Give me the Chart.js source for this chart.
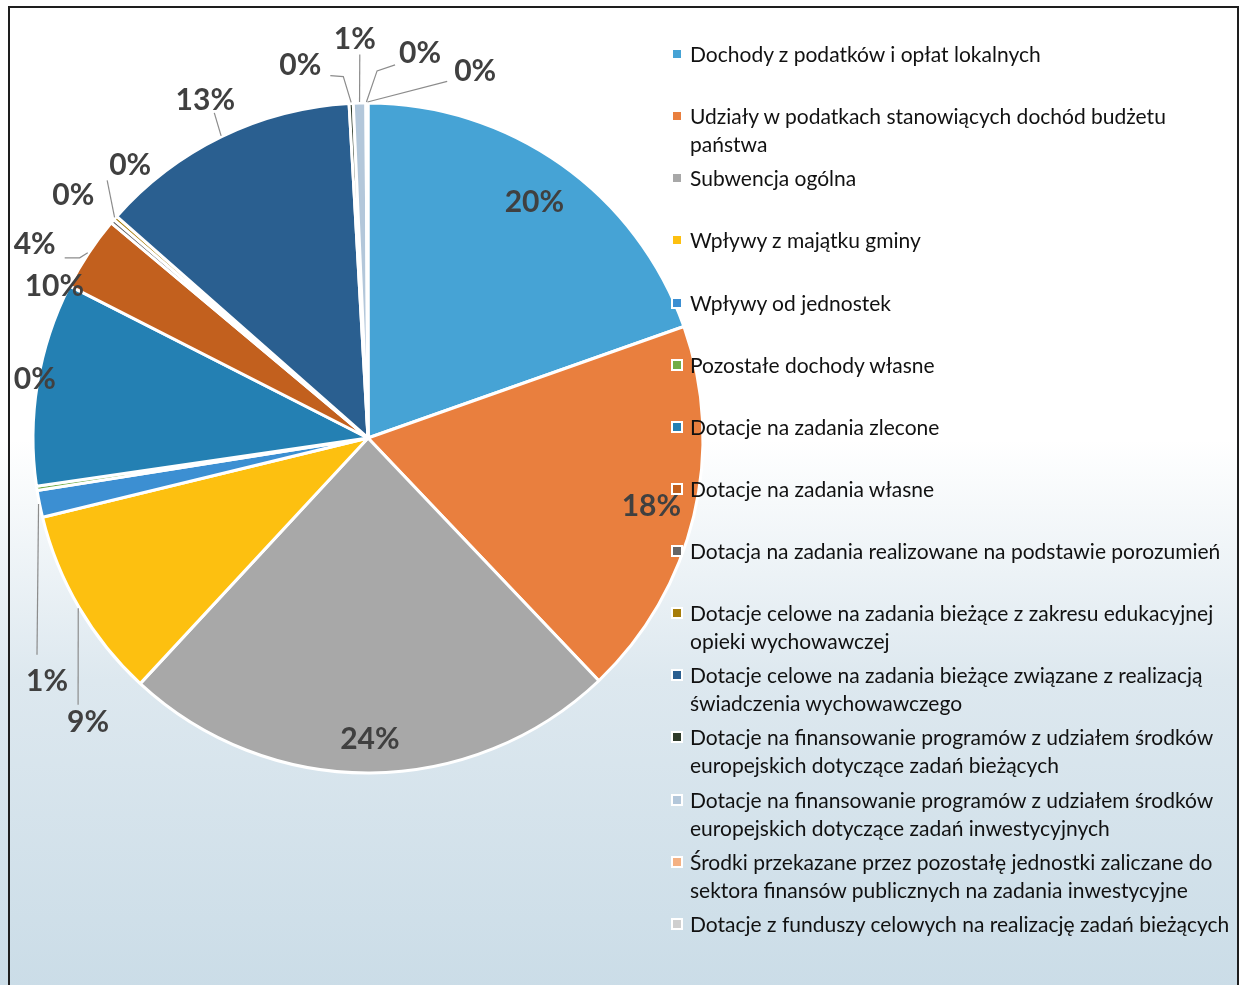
<!DOCTYPE html>
<html>
<head>
<meta charset="utf-8">
<script src="https://cdn.jsdelivr.net/npm/chart.js@4.4.0/dist/chart.umd.min.js"></script>
<style>
  html, body { margin: 0; padding: 0; background: #fff; }
  body { width: 1241px; height: 985px; overflow: hidden; position: relative; font-family: Lato, sans-serif; }
  .frame {
    position: absolute; left: 0; top: 0; width: 1237px; height: 1000px;
    background: linear-gradient(to bottom, #fff 0%, #fff 44%, #dde8ef 68%, #cadce7 100%);
  }
  .border { position: absolute; left: 8px; top: 6px; width: 1227px; height: 1000px; border: 2px solid #1e1e1e; }
  .chart-box { position: absolute; left: 0; top: 0; width: 736px; height: 876px; }
  #legend { position: absolute; left: 672px; top: 40px; }
  .item { height: 62.14px; position: relative; padding-left: 18px; font-size: 21px; line-height: 28px; color: #111; white-space: pre; }
  .item i { position: absolute; left: 1px; top: 10px; width: 8px; height: 8px; outline: 2px solid #fff; }
</style>
</head>
<body>
<div class="frame"></div>
<div class="border"></div>
<div class="chart-box"><canvas id="pie"></canvas></div>
<div id="legend"></div>
<script>
const categories = [
  'Dochody z podatków i opłat lokalnych',
  'Udziały w podatkach stanowiących dochód budżetu\npaństwa',
  'Subwencja ogólna',
  'Wpływy z majątku gminy',
  'Wpływy od jednostek',
  'Pozostałe dochody własne',
  'Dotacje na zadania zlecone',
  'Dotacje na zadania własne',
  'Dotacja na zadania realizowane na podstawie porozumień',
  'Dotacje celowe na zadania bieżące z zakresu edukacyjnej\nopieki wychowawczej',
  'Dotacje celowe na zadania bieżące związane z realizacją\nświadczenia wychowawczego',
  'Dotacje na finansowanie programów z udziałem środków\neuropejskich dotyczące zadań bieżących',
  'Dotacje na finansowanie programów z udziałem środków\neuropejskich dotyczące zadań inwestycyjnych',
  'Środki przekazane przez pozostałę jednostki zaliczane do\nsektora finansów publicznych na zadania inwestycyjne',
  'Dotacje z funduszy celowych na realizację zadań bieżących'
];
// share of total income, %
const shares = [19.6, 18.3, 24.0, 9.3, 1.3, 0.2, 9.8, 3.6, 0.2, 0.2, 12.6, 0.2, 0.6, 0.05, 0.05];

const colors = ['#46a3d5', '#e97f3e', '#a8a8a8', '#fdc010', '#3c8fd2', '#72ad47', '#2480b3', '#c2601e',
  '#666666', '#a67d0a', '#2a5f90', '#2e3b2a', '#b3c7da', '#f4b183', '#cfcfcf'];

// where each % label sits: angle from top (null = middle of slice), distance in radii, leader line points relative to label
const labelPlace = [
  [null, 0.86], [null, 0.87], [null, 0.90],
  [224.6, 1.19, [[-10, -17]]],
  [232.8, 1.203, [[-10, -27]]],
  [280, 1.01], [295.8, 1.04],
  [300.1, 1.15, [[45, 13], [30, 13]]],
  [309.5, 1.14],
  [318.9, 1.08, [[-23, 15]]],
  [334.3, 1.12, [[9, 13]]],
  [349.7, 1.13, [[43, 11], [30, 10]]],
  [358.1, 1.19, [[5, 15]]],
  [7.7, 1.16, [[-43, 18], [-25, 12]]],
  [16.3, 1.14, [[-28, 10]]]
];

const total = shares.reduce((a, b) => a + b, 0);

const pctLabels = {
  id: 'pctLabels',
  afterDatasetsDraw(chart) {
    const ctx = chart.ctx;
    const arcs = chart.getDatasetMeta(0).data;
    ctx.save();
    arcs.forEach((arc, i) => {
      const { x, y, startAngle, endAngle, outerRadius } = arc.getProps(['x', 'y', 'startAngle', 'endAngle', 'outerRadius'], true);
      const mid = (startAngle + endAngle) / 2;
      const [deg, dist, lead] = labelPlace[i];
      const a = deg === null ? mid : (deg - 90) * Math.PI / 180;
      const lx = x + Math.cos(a) * outerRadius * dist;
      const ly = y + Math.sin(a) * outerRadius * dist;
      if (lead) {
        ctx.strokeStyle = '#8c8c8c';
        ctx.lineWidth = 1.2;
        ctx.beginPath();
        ctx.moveTo(x + Math.cos(mid) * (outerRadius + 1), y + Math.sin(mid) * (outerRadius + 1));
        lead.forEach(p => ctx.lineTo(lx + p[0], ly + p[1]));
        ctx.stroke();
      }
      ctx.font = 'bold 30px Lato';
      ctx.fillStyle = '#404040';
      ctx.textAlign = 'center';
      ctx.textBaseline = 'middle';
      ctx.fillText(Math.round(shares[i] / total * 100) + '%', lx, ly);
    });
    ctx.restore();
  }
};

new Chart(document.getElementById('pie'), {
  type: 'pie',
  data: {
    labels: categories,
    datasets: [{
      data: shares,
      backgroundColor: colors,
      borderColor: '#ffffff',
      borderWidth: 3,
      radius: 335
    }]
  },
  options: {
    responsive: true,
    maintainAspectRatio: false,
    animation: false,
    plugins: { legend: { display: false }, tooltip: { enabled: false } }
  },
  plugins: [pctLabels]
});

const legend = document.getElementById('legend');
categories.forEach((name, i) => {
  const row = document.createElement('div');
  row.className = 'item';
  row.innerHTML = '<i style="background:' + colors[i] + '"></i>';
  row.appendChild(document.createTextNode(name));
  legend.appendChild(row);
});
</script>
</body>
</html>
